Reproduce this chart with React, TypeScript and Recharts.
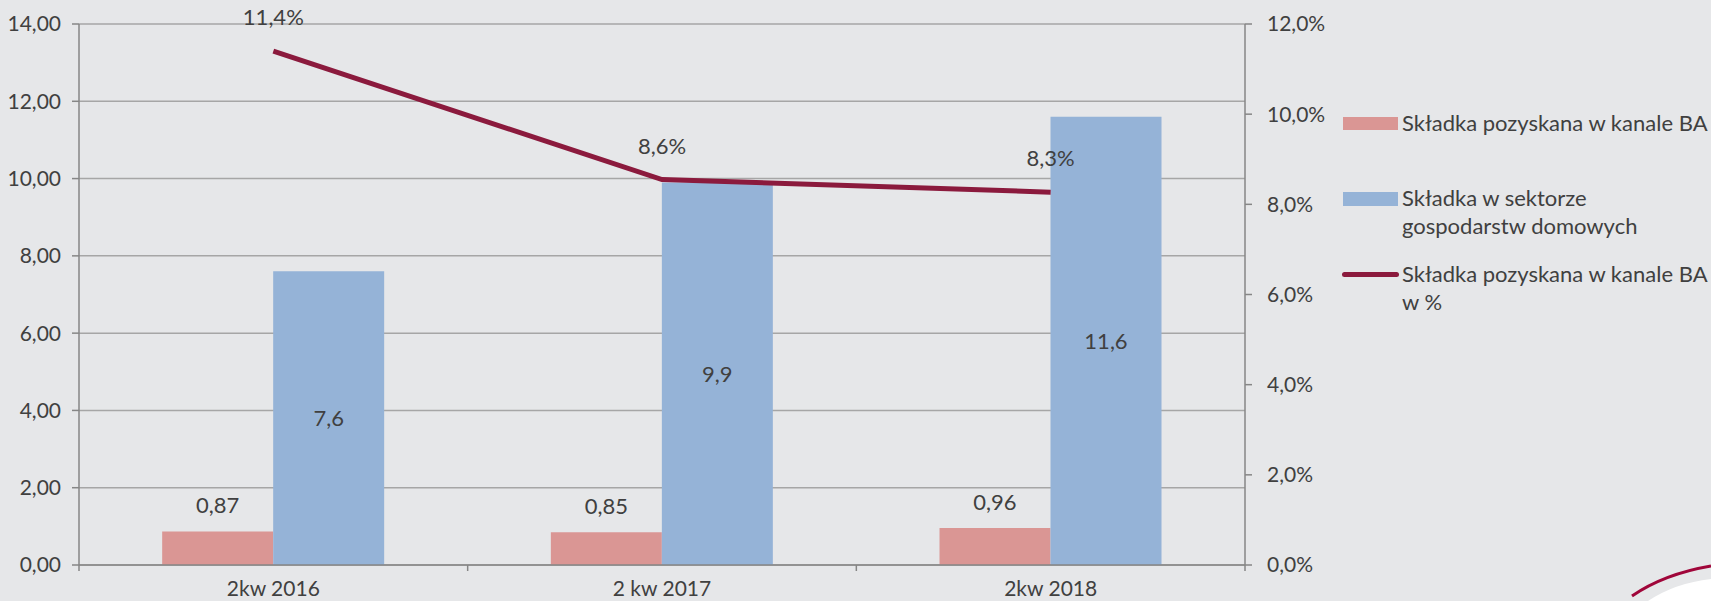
import { ComposedChart, Bar, Line, XAxis, YAxis, CartesianGrid, Legend, LabelList } from 'recharts';

const categories = ['2kw 2016', '2 kw 2017', '2kw 2018'];
const premiumBA = [0.87, 0.85, 0.96];
const premiumHousehold = [7.6, 9.9, 11.6];
const shareBA = [11.4, 8.55, 8.27];
const leftTicks = [0, 2, 4, 6, 8, 10, 12, 14];
const rightTicks = [0, 2, 4, 6, 8, 10, 12];

const data = categories.map((name, i) => ({
  name,
  ba: premiumBA[i],
  household: premiumHousehold[i],
  share: shareBA[i],
}));

const W = 1711;
const H = 601;
const BG = '#E6E7E9';
const TEXT = '#404040';
const AXIS = '#868686';
const GRID = '#A6A6A6';
const PINK = '#DA9694';
const BLUE = '#95B3D7';
const MAROON = '#8B1A3D';
const FONT = 'Lato, sans-serif';
const FS = 21;

const PLOT_LEFT = 79;
const PLOT_RIGHT = 1245;
const BAND = (PLOT_RIGHT - PLOT_LEFT) / categories.length;

const comma = (v: number, d: number) => v.toFixed(d).replace('.', ',');

const CategoryTick = (props: any) => {
  const { x, y, payload, index } = props;
  const half = BAND / 2;
  return (
    <g>
      <line x1={x - half} x2={x - half} y1={y} y2={y + 6} stroke={AXIS} strokeWidth={1.5} />
      {index === categories.length - 1 && (
        <line x1={x + half} x2={x + half} y1={y} y2={y + 6} stroke={AXIS} strokeWidth={1.5} />
      )}
      <text x={x} y={y + 31} textAnchor="middle" fill={TEXT} fontSize={FS} fontFamily={FONT}>
        {payload.value}
      </text>
    </g>
  );
};

const legendText: React.CSSProperties = {
  position: 'absolute',
  left: 62,
  fontSize: 22,
  lineHeight: '28px',
  color: TEXT,
  fontFamily: FONT,
  whiteSpace: 'nowrap',
};

const LegendBox = () => (
  <div style={{ position: 'relative', width: 371, height: 220 }}>
    <div style={{ position: 'absolute', left: 3, top: 9, width: 55, height: 13, background: PINK }} />
    <div style={{ ...legendText, top: 1 }}>Składka pozyskana w kanale BA</div>
    <div style={{ position: 'absolute', left: 3, top: 84, width: 55, height: 14, background: BLUE }} />
    <div style={{ ...legendText, top: 76 }}>
      Składka w sektorze
      <br />
      gospodarstw domowych
    </div>
    <div style={{ position: 'absolute', left: 2, top: 164, width: 57, height: 5, borderRadius: 3, background: MAROON }} />
    <div style={{ ...legendText, top: 152 }}>
      Składka pozyskana w kanale BA
      <br />w %
    </div>
  </div>
);

export default function App() {
  return (
    <div style={{ position: 'absolute', left: 0, top: 0, width: W, height: H, background: BG, overflow: 'hidden' }}>
      <ComposedChart
        width={W}
        height={H}
        data={data}
        margin={{ top: 24, right: 396, bottom: 0, left: 0 }}
        barCategoryGap="21.4%"
        barGap={0}
      >
        <CartesianGrid yAxisId="left" vertical={false} stroke={GRID} strokeWidth={1.5} />
        <XAxis
          dataKey="name"
          height={36}
          interval={0}
          tickSize={0}
          tickMargin={0}
          axisLine={{ stroke: AXIS, strokeWidth: 1.5 }}
          tick={<CategoryTick />}
        />
        <YAxis
          yAxisId="left"
          width={79}
          domain={[0, 14]}
          ticks={leftTicks}
          interval={0}
          tickFormatter={(v) => comma(v, 2)}
          axisLine={{ stroke: AXIS, strokeWidth: 1.5 }}
          tickLine={{ stroke: AXIS, strokeWidth: 1.5 }}
          tickSize={7}
          tickMargin={11}
          tick={{ fill: TEXT, fontSize: FS, fontFamily: FONT }}
        />
        <YAxis
          yAxisId="right"
          orientation="right"
          width={70}
          domain={[0, 12]}
          ticks={rightTicks}
          interval={0}
          tickFormatter={(v) => comma(v, 1) + '%'}
          axisLine={{ stroke: AXIS, strokeWidth: 1.5 }}
          tickLine={{ stroke: AXIS, strokeWidth: 1.5 }}
          tickSize={7}
          tickMargin={15}
          tick={{ fill: TEXT, fontSize: FS, fontFamily: FONT }}
        />
        <Legend
          layout="horizontal"
          verticalAlign="middle"
          align="center"
          content={<LegendBox />}
          wrapperStyle={{ left: 1340, top: 108, width: 371, height: 220 }}
        />
        <Bar yAxisId="left" dataKey="ba" fill={PINK} isAnimationActive={false}>
          <LabelList
            dataKey="ba"
            position="top"
            offset={18}
            formatter={(v: any) => comma(Number(v), 2)}
            fill={TEXT}
            fontSize={FS + 1}
            fontFamily={FONT}
          />
        </Bar>
        <Bar yAxisId="left" dataKey="household" fill={BLUE} isAnimationActive={false}>
          <LabelList
            dataKey="household"
            position="center"
            formatter={(v: any) => comma(Number(v), 1)}
            fill={TEXT}
            fontSize={FS + 1}
            fontFamily={FONT}
          />
        </Bar>
        <Line
          yAxisId="right"
          dataKey="share"
          type="linear"
          stroke={MAROON}
          strokeWidth={5}
          dot={false}
          activeDot={false}
          isAnimationActive={false}
        >
          <LabelList
            dataKey="share"
            position="top"
            offset={26}
            formatter={(v: any) => comma(Number(v), 1) + '%'}
            fill={TEXT}
            fontSize={FS + 1}
            fontFamily={FONT}
          />
        </Line>
      </ComposedChart>
      <svg style={{ position: 'absolute', left: 0, top: 0 }} width={W} height={H}>
        <path d="M1648,601 Q1675,583 1711,579 L1711,601 Z" fill="#FFFFFF" />
        <path d="M1632,596 Q1664,574 1711,566" fill="none" stroke="#A0063A" strokeWidth={3} />
      </svg>
    </div>
  );
}
